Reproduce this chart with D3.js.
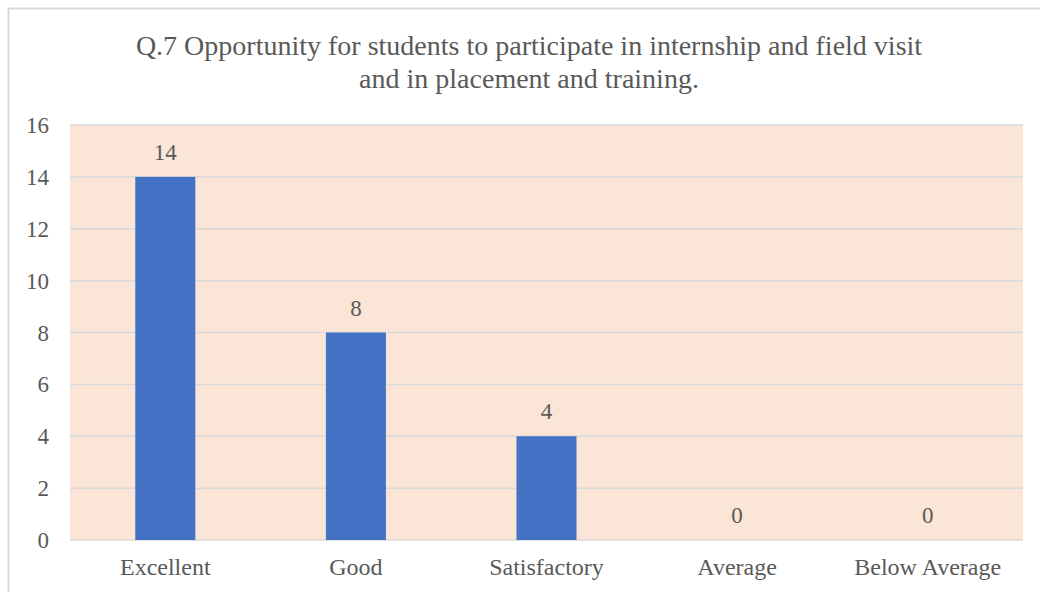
<!DOCTYPE html>
<html>
<head>
<meta charset="utf-8">
<script src="https://cdn.jsdelivr.net/npm/d3@7"></script>
<style>
  body { margin: 0; background: #fff; }
  text { font-family: "Liberation Serif", "Times New Roman", serif; fill: #595959; }
</style>
</head>
<body>
<script>
var categories = ["Excellent", "Good", "Satisfactory", "Average", "Below Average"];
var values = [14, 8, 4, 0, 0];
var yTicks = [0, 2, 4, 6, 8, 10, 12, 14, 16];
var titleLines = ["Q.7 Opportunity for students to participate in internship and field visit",
                  "and in placement and training."];

var width = 1040, height = 592;
var margin = {top: 125, right: 17, bottom: 52, left: 70};

var svg = d3.select("body")
    .append("svg")
    .attr("width", width)
    .attr("height", height);

// chart frame
svg.append("rect")
    .attr("x", 8.5).attr("y", 8.5)
    .attr("width", width + 10).attr("height", height + 10)
    .attr("fill", "#fff")
    .attr("stroke", "#d9d9d9")
    .attr("stroke-width", 2);

var x = d3.scaleBand()
    .domain(categories)
    .range([margin.left, width - margin.right])
    .paddingInner(0.685)
    .paddingOuter(0.3425);

var y = d3.scaleLinear()
    .domain([0, 16])
    .range([height - margin.bottom, margin.top]);

// plot background
svg.append("rect")
    .attr("x", margin.left)
    .attr("y", y(16))
    .attr("width", width - margin.right - margin.left)
    .attr("height", y(0) - y(16))
    .attr("fill", "#fbe5d6");

// gridlines
svg.append("g")
    .selectAll("line")
    .data(yTicks)
    .enter()
    .append("line")
    .attr("x1", margin.left)
    .attr("x2", width - margin.right)
    .attr("y1", function(d) { return y(d); })
    .attr("y2", function(d) { return y(d); })
    .attr("stroke", "#d9d9d9")
    .attr("stroke-width", 1.5);

// y tick labels
svg.append("g")
    .selectAll("text")
    .data(yTicks)
    .enter()
    .append("text")
    .attr("x", margin.left - 21)
    .attr("y", function(d) { return y(d); })
    .attr("dy", "0.35em")
    .style("text-anchor", "end")
    .attr("font-size", 23)
    .text(function(d) { return d; });

// bars
svg.append("g")
    .selectAll("rect")
    .data(values)
    .enter()
    .append("rect")
    .attr("x", function(d, i) { return x(categories[i]); })
    .attr("y", function(d) { return y(d); })
    .attr("width", x.bandwidth())
    .attr("height", function(d) { return y(0) - y(d); })
    .attr("fill", "#4472c4");

// value labels
svg.append("g")
    .selectAll("text")
    .data(values)
    .enter()
    .append("text")
    .attr("x", function(d, i) { return x(categories[i]) + x.bandwidth() / 2; })
    .attr("y", function(d) { return y(d) - 17; })
    .style("text-anchor", "middle")
    .attr("font-size", 23)
    .text(function(d) { return d; });

// category labels
svg.append("g")
    .selectAll("text")
    .data(categories)
    .enter()
    .append("text")
    .attr("x", function(d) { return x(d) + x.bandwidth() / 2; })
    .attr("y", y(0) + 35)
    .style("text-anchor", "middle")
    .attr("font-size", 24)
    .text(function(d) { return d; });

// title
svg.append("g")
    .selectAll("text")
    .data(titleLines)
    .enter()
    .append("text")
    .attr("x", 529)
    .attr("y", function(d, i) { return 55 + i * 33; })
    .style("text-anchor", "middle")
    .attr("font-size", 28)
    .text(function(d) { return d; });
</script>
</body>
</html>
